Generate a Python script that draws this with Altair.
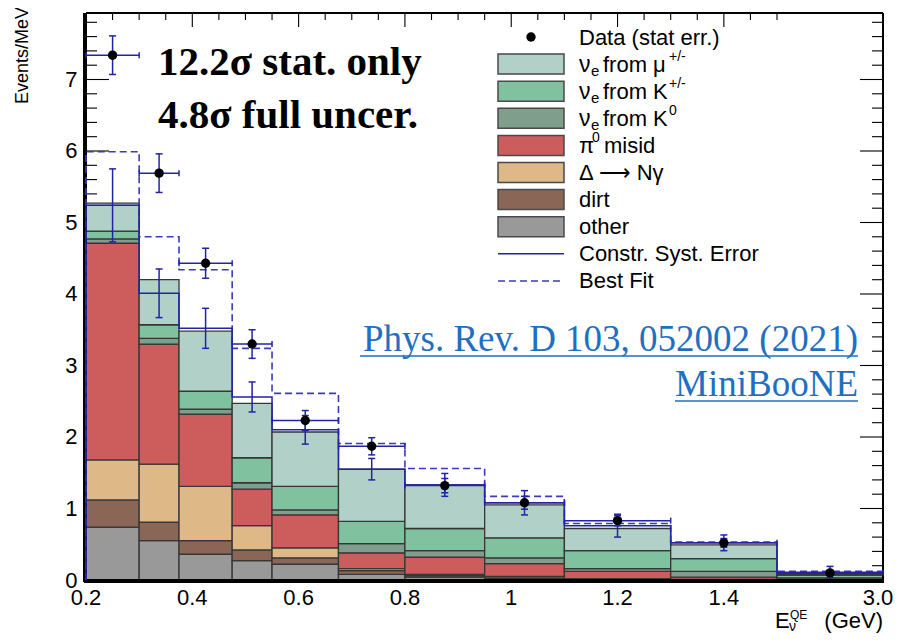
import altair as alt
import pandas as pd

# ---------------- data (Events/MeV) ----------------
edges = [0.2, 0.3, 0.375, 0.475, 0.55, 0.675, 0.8, 0.95, 1.1, 1.3, 1.5, 3.0]

other   = [0.74, 0.55, 0.36, 0.27, 0.22, 0.08, 0.04, 0.02, 0.010, 0.005, 0.002]
dirt    = [0.38, 0.26, 0.19, 0.15, 0.09, 0.05, 0.02, 0.01, 0.005, 0.003, 0.001]
delta_ng = [0.56, 0.81, 0.76, 0.34, 0.14, 0.03, 0.02, 0.02, 0.005, 0.002, 0.001]
pi0     = [3.03, 1.68, 1.01, 0.51, 0.46, 0.22, 0.24, 0.18, 0.10, 0.03, 0.006]
nue_k0  = [0.06, 0.08, 0.07, 0.09, 0.07, 0.13, 0.09, 0.08, 0.04, 0.08, 0.02]
nue_kpm = [0.11, 0.19, 0.25, 0.35, 0.33, 0.31, 0.31, 0.28, 0.25, 0.18, 0.04]
nue_mu  = [0.39, 0.63, 0.84, 0.76, 0.76, 0.73, 0.61, 0.46, 0.31, 0.19, 0.02]

constr     = [5.24, 4.01, 3.52, 2.56, 2.10, 1.55, 1.33, 1.08, 0.76, 0.52, 0.11]
constr_err = [0.51, 0.34, 0.28, 0.21, 0.20, 0.15, 0.16, 0.17, 0.16, 0.11, 0.08]
best_fit   = [5.99, 4.80, 4.34, 3.24, 2.61, 1.91, 1.56, 1.17, 0.79, 0.53, 0.12]
data_val   = [7.34, 5.69, 4.43, 3.30, 2.23, 1.87, 1.32, 1.08, 0.83, 0.52, 0.10]
data_err   = [0.27, 0.27, 0.21, 0.20, 0.14, 0.12, 0.10, 0.09, 0.07, 0.06, 0.03]

comp_names = ["other", "dirt", "delta", "pi0", "nue_k0", "nue_kpm", "nue_mu"]
comp_vals = [other, dirt, delta_ng, pi0, nue_k0, nue_kpm, nue_mu]
comp_colors = ["#999999", "#8a6656", "#deb887", "#cd5c5c", "#7f9f8c", "#80c1a0", "#b0d0c8"]

x_major = [0.2, 0.4, 0.6, 0.8, 1.0, 1.2, 1.4, 3.0]
x_labels = ["0.2", "0.4", "0.6", "0.8", "1", "1.2", "1.4", "3.0"]

# ---------------- layout ----------------
W, H = 797, 567
X0, Y0 = 86, 13
BLUE = "#2323a8"
BLUE_D = "#3a3ac0"


def px(x):
    return x - X0


def py(y):
    return y - Y0


xs = alt.Scale(domain=[0.2, 1.5, 3.0], range=[0, 691, W], nice=False, zero=False)
ys = alt.Scale(domain=[0, 7.93], nice=False, zero=True)
yax = alt.Axis(values=list(range(8)), labelFont="Liberation Sans", labelFontSize=22, labelColor="black",
               domain=False, ticks=False, grid=False, labelPadding=9, title=None)


def X(f):
    return alt.X(f, type="quantitative", scale=xs, axis=None)


def Y(f):
    return alt.Y(f, type="quantitative", scale=ys, axis=yax)


layers = []

# ---------------- ticks (inside frame) ----------------
xmin = [round(0.2 + 0.05 * k, 3) for k in range(27)]
xmin = [v for v in xmin if v not in x_major]
ymaj = list(range(1, 8))
ymin = [round(0.2 * k, 2) for k in range(1, 40)]
ymin = [v for v in ymin if abs(v - round(v)) > 1e-6]

dfxM = pd.DataFrame({"v": x_major[:-1]})
dfxm = pd.DataFrame({"v": xmin})
dfyM = pd.DataFrame({"v": ymaj})
dfym = pd.DataFrame({"v": ymin})
for df, ln in [(dfxM, 14), (dfxm, 7)]:
    layers.append(alt.Chart(df).mark_rule(color="black", strokeWidth=1.1).encode(
        x=X("v"), y=alt.value(H), y2=alt.value(H - ln)))
    layers.append(alt.Chart(df).mark_rule(color="black", strokeWidth=1.1).encode(
        x=X("v"), y=alt.value(0), y2=alt.value(ln)))
for df, ln in [(dfyM, 23), (dfym, 11)]:
    layers.append(alt.Chart(df).mark_rule(color="black", strokeWidth=1.1).encode(
        y=Y("v"), x=alt.value(0), x2=alt.value(ln)))
    layers.append(alt.Chart(df).mark_rule(color="black", strokeWidth=1.1).encode(
        y=Y("v"), x=alt.value(W), x2=alt.value(W - ln)))

# ---------------- stacked histogram ----------------
rows = []
for i in range(len(edges) - 1):
    base = 0.0
    for name, arr in zip(comp_names, comp_vals):
        rows.append({"lo": edges[i], "hi": edges[i + 1], "y0": base, "y1": base + arr[i], "comp": name})
        base += arr[i]
stack_df = pd.DataFrame(rows)
layers.append(alt.Chart(stack_df).mark_rect(stroke="#363636", strokeWidth=1.3).encode(
    x=X("lo"), x2="hi", y=Y("y0"), y2="y1",
    fill=alt.Fill("comp:N", scale=alt.Scale(domain=comp_names, range=comp_colors), legend=None)))

# ---------------- frame ----------------
layers.append(alt.Chart(dfxM).mark_rule(color="black", strokeWidth=1.6).encode(
    x=alt.value(0), x2=alt.value(W), y=alt.value(0)))
layers.append(alt.Chart(dfxM).mark_rule(color="black", strokeWidth=1.6).encode(
    x=alt.value(W), y=alt.value(0), y2=alt.value(H)))
layers.append(alt.Chart(dfxM).mark_rule(color="black", strokeWidth=3.5).encode(
    x=alt.value(-1.5), x2=alt.value(W + 1), y=alt.value(H + 1)))
layers.append(alt.Chart(dfxM).mark_rule(color="black", strokeWidth=3).encode(
    x=alt.value(-1), y=alt.value(0), y2=alt.value(H + 2)))

# x tick labels
xl = pd.DataFrame({"v": x_major, "t": x_labels})
layers.append(alt.Chart(xl.iloc[:-1]).mark_text(
    font="Liberation Sans", fontSize=22, color="black", align="center", baseline="alphabetic").encode(
    x=X("v"), y=alt.value(H + 25), text="t:N"))
layers.append(alt.Chart(xl.iloc[-1:]).mark_text(
    font="Liberation Sans", fontSize=22, color="black", align="center", baseline="alphabetic", dx=-5).encode(
    x=X("v"), y=alt.value(H + 25), text="t:N"))


# ---------------- step lines ----------------
def step_df(vals):
    pts = [{"x": edges[0], "y": 0.0, "o": 0}]
    for i, v in enumerate(vals):
        pts.append({"x": edges[i], "y": v, "o": i + 1})
    pts.append({"x": edges[-1], "y": vals[-1], "o": len(vals) + 1})
    return pd.DataFrame(pts)


layers.append(alt.Chart(step_df(best_fit)).mark_line(
    interpolate="step-after", color=BLUE_D, strokeWidth=1.6, strokeDash=[7, 4]).encode(
    x=X("x"), y=Y("y"), order="o:Q"))
layers.append(alt.Chart(step_df(constr)).mark_line(
    interpolate="step-after", color=BLUE, strokeWidth=1.5).encode(
    x=X("x"), y=Y("y"), order="o:Q"))

# ---------------- error bars ----------------
bins = pd.DataFrame({
    "lo": edges[:-1], "hi": edges[1:],
    "mid": [(a + b) / 2 for a, b in zip(edges[:-1], edges[1:])],
    "c": constr, "c_lo": [c - e for c, e in zip(constr, constr_err)],
    "c_hi": [c + e for c, e in zip(constr, constr_err)],
    "d": data_val, "d_lo": [d - e for d, e in zip(data_val, data_err)],
    "d_hi": [d + e for d, e in zip(data_val, data_err)],
})
base = alt.Chart(bins)
# constrained syst error bars
layers.append(base.mark_rule(color=BLUE, strokeWidth=1.5).encode(x=X("mid"), y=Y("c_lo"), y2="c_hi"))
for f in ["c_lo", "c_hi"]:
    layers.append(base.mark_rule(color=BLUE, strokeWidth=1.5, xOffset=-3.5, x2Offset=3.5).encode(
        x=X("mid"), x2="mid", y=Y(f)))
# data stat error bars
layers.append(base.mark_rule(color=BLUE, strokeWidth=1.5).encode(x=X("lo"), x2="hi", y=Y("d")))
for f in ["lo", "hi"]:
    layers.append(base.mark_rule(color=BLUE, strokeWidth=1.5, yOffset=-3, y2Offset=3).encode(
        x=X(f), y=Y("d"), y2="d"))
layers.append(base.mark_rule(color=BLUE, strokeWidth=1.5).encode(x=X("mid"), y=Y("d_lo"), y2="d_hi"))
for f in ["d_lo", "d_hi"]:
    layers.append(base.mark_rule(color=BLUE, strokeWidth=1.5, xOffset=-3.5, x2Offset=3.5).encode(
        x=X("mid"), x2="mid", y=Y(f)))
layers.append(base.mark_circle(color="black", size=88, opacity=1).encode(x=X("mid"), y=Y("d")))

# ---------------- texts ----------------
dummy = pd.DataFrame({"d": [0]})


def text(s, xp, yp, size, font="Liberation Sans", color="black", align="left",
         baseline="alphabetic", weight="normal", angle=0):
    return alt.Chart(dummy).mark_text(
        text=s, align=align, baseline=baseline, font=font, fontSize=size,
        fontWeight=weight, color=color, angle=angle).encode(x=alt.value(px(xp)), y=alt.value(py(yp)))


# significance annotation
layers.append(text("12.2σ stat. only", 158, 75, 41, font="Liberation Serif", weight="bold"))
layers.append(text("4.8σ full uncer.", 158, 128, 41, font="Liberation Serif", weight="bold"))

# reference link
LINK = "#1f6fc2"
layers.append(text("Phys. Rev. D 103, 052002 (2021)", 858, 351, 37, font="Liberation Serif",
                   color=LINK, align="right"))
layers.append(text("MiniBooNE", 858, 396, 37, font="Liberation Serif", color=LINK, align="right"))
for x1, yy in [(360, 356), (675, 401)]:
    layers.append(alt.Chart(dummy).mark_rule(color=LINK, strokeWidth=1.6).encode(
        x=alt.value(px(x1)), x2=alt.value(px(858)), y=alt.value(py(yy))))

# axis titles
layers.append(text("Events/MeV", 23, 7, 18, align="right", baseline="middle", angle=270))
layers.append(text("E", 775, 628, 22))
layers.append(text("ν", 789, 631, 14))
layers.append(text("QE", 790, 619, 12))
layers.append(text("(GeV)", 883, 628, 22, align="right"))

# ---------------- legend ----------------
row_y = [37 + 27.1 * k for k in range(10)]
FS = 22
# data entry
layers.append(alt.Chart(dummy).mark_circle(color="black", size=88, opacity=1).encode(
    x=alt.value(px(531)), y=alt.value(py(row_y[0]))))
layers.append(text("Data (stat err.)", 579, row_y[0] + 7.5, FS))
# boxes
for k, col in enumerate(reversed(comp_colors)):
    yc = row_y[k + 1]
    layers.append(alt.Chart(dummy).mark_rect(fill=col, stroke="#4a4a4a", strokeWidth=1.5).encode(
        x=alt.value(px(498)), x2=alt.value(px(564)), y=alt.value(py(yc - 10)), y2=alt.value(py(yc + 10))))
# box labels
for k, sup in [(1, "+/-"), (2, "+/-"), (3, "0")]:
    yc = row_y[k]
    word = "from μ" if k == 1 else "from K"
    layers.append(text("ν", 579, yc + 7.5, 23))
    layers.append(text("e", 591, yc + 12, 15))
    layers.append(text(word, 603, yc + 7.5, FS))
    layers.append(text(sup, 669, yc - 3, 14))
layers.append(text("π", 579, row_y[4] + 7.5, FS))
layers.append(text("0", 592, row_y[4] - 3, 14))
layers.append(text("misid", 604, row_y[4] + 7.5, FS))
layers.append(text("Δ ⟶ Nγ", 579, row_y[5] + 7.5, FS))
layers.append(text("dirt", 579, row_y[6] + 7.5, FS))
layers.append(text("other", 579, row_y[7] + 7.5, FS))
# line entries
layers.append(alt.Chart(dummy).mark_rule(color=BLUE, strokeWidth=1.5).encode(
    x=alt.value(px(498)), x2=alt.value(px(564)), y=alt.value(py(row_y[8]))))
layers.append(text("Constr. Syst. Error", 579, row_y[8] + 7.5, FS))
layers.append(alt.Chart(dummy).mark_rule(color=BLUE_D, strokeWidth=1.5, strokeDash=[7, 4]).encode(
    x=alt.value(px(498)), x2=alt.value(px(564)), y=alt.value(py(row_y[9]))))
layers.append(text("Best Fit", 579, row_y[9] + 7.5, FS))

chart = alt.layer(*layers).properties(
    width=W, height=H,
    autosize=alt.AutoSizeParams(type="none"),
    padding={"left": 78, "top": 5, "right": 11, "bottom": 55},
).configure_view(stroke=None)

chart.save("out.html", embed_options={"renderer": "svg", "actions": False})
